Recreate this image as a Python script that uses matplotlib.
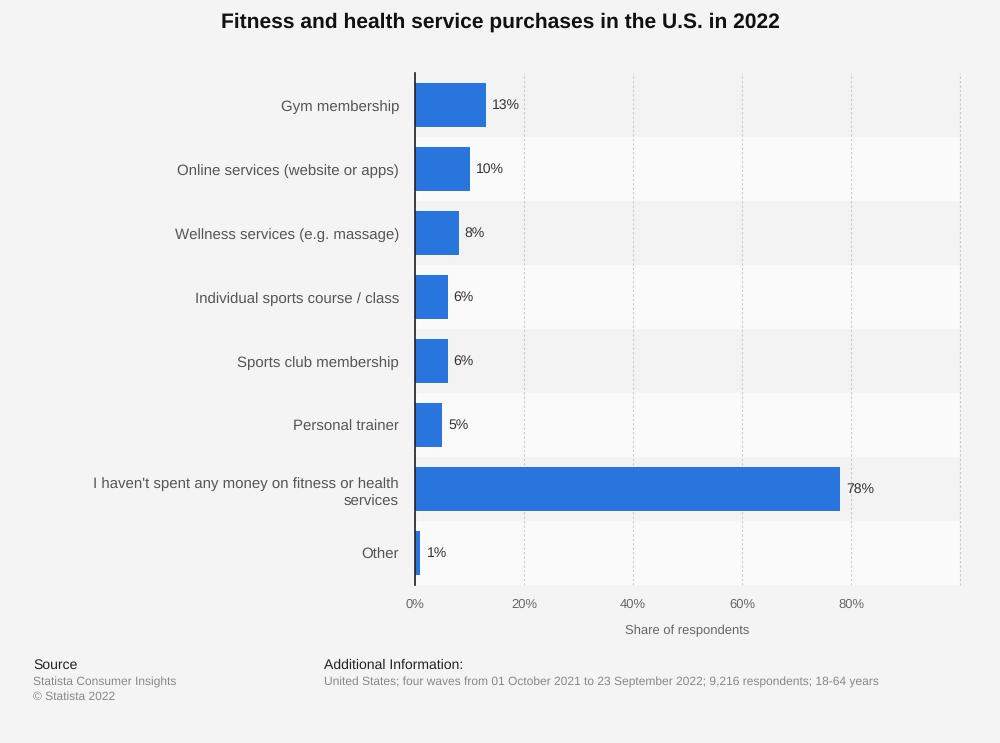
import matplotlib
matplotlib.use("Agg")
import matplotlib.pyplot as plt
from matplotlib.transforms import offset_copy

categories = [
    "Gym membership",
    "Online services (website or apps)",
    "Wellness services (e.g. massage)",
    "Individual sports course / class",
    "Sports club membership",
    "Personal trainer",
    "I haven't spent any money on fitness or health\nservices",
    "Other",
]
values = [13, 10, 8, 6, 6, 5, 78, 1]
x_ticks = [0, 20, 40, 60, 80, 100]
x_tick_labels = ["0%", "20%", "40%", "60%", "80%", ""]

plt.rcParams['font.family'] = ['Liberation Sans', 'DejaVu Sans']
plt.rcParams['text.hinting'] = 'no_hinting'
plt.rcParams['text.hinting_factor'] = 1

bg = "#f4f4f4"
fig = plt.figure(figsize=(10, 7.43), dpi=100, facecolor=bg)
ax = fig.add_axes([0.415, 0.2127, 0.545, 0.6890])
ax.set_facecolor(bg)

n = len(categories)
ypos = list(range(n))
for i in ypos:
    ax.axhspan(i - 0.5, i + 0.5, color="#f3f3f3" if i % 2 == 0 else "#fafafa", zorder=0, lw=0)

ax.barh(ypos, values, height=0.7, color="#2876dd", zorder=3)
for y, v in zip(ypos, values):
    ax.text(v, y, f"{v}%", transform=offset_copy(ax.transData, fig=fig, x=6, y=0, units='dots'),
            va="center", ha="left", fontsize=10.3, color="#333333", zorder=4)

ax.set_ylim(n - 0.5, -0.5)
ax.set_xlim(0, 100)
ax.set_yticks(ypos)
ax.set_yticklabels(categories, fontsize=10.45, color="#555555", linespacing=1.45)
ax.set_xticks(x_ticks)
ax.set_xticklabels(x_tick_labels, fontsize=9.3, color="#666666")
ax.tick_params(axis="y", length=0, pad=11.5)
ax.tick_params(axis="x", length=0, pad=10)
ax.xaxis.grid(True, linestyle=(0, (2, 2)), color="#c8c8c8", linewidth=0.8, zorder=1)
ax.axvline(100, linestyle=(0, (2, 2)), color="#c8c8c8", linewidth=0.8, zorder=1, clip_on=False)
ax.set_axisbelow(True)
for s in ["top", "right", "bottom"]:
    ax.spines[s].set_visible(False)
ax.spines["left"].set_color("#222222")
ax.spines["left"].set_linewidth(1.2)
ax.spines["left"].set_zorder(5)
ax.set_xlabel("Share of respondents", fontsize=9.3, color="#666666", labelpad=10)

fig.text(0.5, 1 - 22/743, "Fitness and health service purchases in the U.S. in 2022",
         ha="center", va="center", fontsize=15, fontweight="bold", color="#111111")

fig.text(0.033, 1 - 665/743, "Source", fontsize=9.8, color="#222222", va="center")
fig.text(0.033, 1 - 682/743, "Statista Consumer Insights", fontsize=8.5, color="#888888", va="center")
fig.text(0.033, 1 - 697/743, "© Statista 2022", fontsize=8.5, color="#888888", va="center")
fig.text(0.324, 1 - 665/743, "Additional Information:", fontsize=9.8, color="#222222", va="center")
fig.text(0.324, 1 - 682/743,
         "United States; four waves from 01 October 2021 to 23 September 2022; 9,216 respondents; 18-64 years",
         fontsize=8.65, color="#888888", va="center")

fig.savefig("out.png", dpi=100, facecolor=bg)
